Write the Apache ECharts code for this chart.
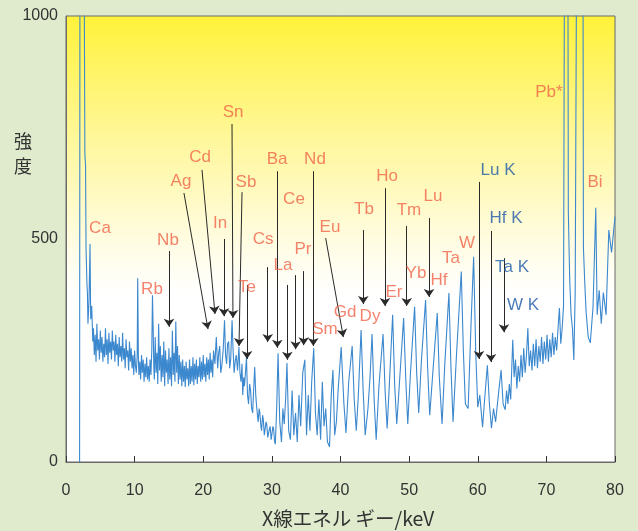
<!DOCTYPE html>
<html><head><meta charset="utf-8">
<script src="https://cdn.jsdelivr.net/npm/echarts@6/dist/echarts.min.js"></script>
<style>html,body{margin:0;padding:0;background:#dfebcc;}#c{width:638px;height:531px;}</style>
</head><body><div id="c"></div>
<script>
// X-ray energy (keV) and intensity
const energy = [
1.98,2.05,2.55,2.75,2.85,2.92,3.05,3.12,3.2,3.35,3.5,3.6,3.75,3.9,
4.0,4.125,4.25,4.375,4.5,4.625,4.75,4.875,5.0,5.125,5.25,5.375,5.5,5.625,5.75,5.875,
6.0,6.125,6.25,6.375,6.5,6.625,6.75,6.875,7.0,7.125,7.25,7.375,7.5,7.625,7.75,7.875,
8.0,8.125,8.25,8.375,8.5,8.625,8.75,8.875,9.0,9.125,9.25,9.375,9.5,9.625,9.75,9.875,
10.0,10.125,10.25,10.375,10.45,10.55,10.625,10.75,10.875,11.0,11.125,11.25,11.375,11.5,11.625,11.75,11.875,
12.0,12.125,12.25,12.375,12.5,12.6,12.7,12.8,12.875,13.0,13.125,13.25,13.375,13.5,13.625,13.75,13.875,
14.0,14.125,14.25,14.375,14.5,14.625,14.75,14.875,15.0,15.125,15.25,15.375,15.5,15.625,15.75,15.875,
16.0,16.125,16.25,16.375,16.5,16.625,16.75,16.875,17.0,17.125,17.25,17.375,17.5,17.625,17.75,17.875,
18.0,18.125,18.25,18.375,18.5,18.625,18.75,18.875,19.0,19.125,19.25,19.375,19.5,19.625,19.75,19.875,
20.0,20.125,20.25,20.375,20.5,20.625,20.75,20.875,21.0,21.125,21.25,21.375,21.5,21.7,21.9,
22.1,22.25,22.4,22.55,22.7,22.9,23.1,23.25,23.4,23.55,23.7,23.85,24.0,24.2,24.35,24.5,24.65,24.8,25.0,25.2,
25.35,25.5,25.65,25.75,25.9,26.0,26.15,26.3,26.45,26.6,26.75,26.9,27.05,27.2,27.35,27.5,27.65,27.75,27.9,
28.0,28.15,28.25,28.4,28.5,28.65,28.75,28.9,29.0,29.15,29.25,29.4,29.5,29.65,29.75,29.9,30.0,30.15,30.25,30.4,30.5,30.7,30.9,
31.15,31.4,31.6,31.8,32.0,32.2,32.45,32.7,32.95,33.2,33.45,33.7,33.95,
34.2,34.5,34.8,35.05,35.3,35.55,35.8,36.1,36.35,36.6,36.85,37.1,37.35,37.6,37.85,
38.1,38.4,38.65,38.9,39.15,39.4,39.65,40.1,40.5,40.8,41.2,41.7,42.0,42.3,42.6,
43.0,43.3,43.6,44.0,44.3,44.6,44.9,45.2,45.6,46.2,46.5,46.8,47.2,47.6,47.9,
48.2,48.6,49.2,49.5,49.8,50.2,50.8,51.1,51.4,51.8,52.4,52.7,53.0,53.5,
54.1,54.4,54.8,55.2,55.8,56.1,56.4,56.9,57.6,57.9,58.2,58.6,59.0,59.4,59.7,
60.0,60.3,60.7,61.0,61.4,61.7,62.0,62.3,62.6,63.0,63.4,63.7,64.0,64.2,64.4,64.6,64.8,
65.1,65.3,65.5,65.7,65.9,66.1,66.3,66.5,66.7,66.9,67.1,67.3,67.5,67.7,67.9,
68.1,68.3,68.5,68.7,68.9,69.1,69.3,69.5,69.7,69.9,70.1,70.3,70.5,70.7,70.9,
71.1,71.3,71.5,71.7,71.9,72.1,72.3,72.5,72.7,73.1,73.2,73.4,73.6,73.8,74.0,74.2,
74.5,75.3,75.4,75.6,75.8,76.1,76.4,76.8,77.2,77.4,77.7,78.0,78.3,78.7,79.1,79.5,80.0
];
const counts = [
0,1500,1500,690,665,480,400,380,310,360,489,320,350,270,
300,240,285,225,310,250,275,230,295,245,280,225,265,235,300,240,
275,220,290,245,270,230,295,250,270,225,285,240,265,215,280,235,
260,225,290,230,255,210,275,235,250,205,270,225,255,210,240,195,
250,215,200,240,412,230,195,225,185,240,200,230,180,220,190,235,185,
215,180,230,195,250,374,300,210,185,280,200,245,175,310,205,260,180,
240,190,270,170,250,200,230,175,255,185,235,170,295,195,245,180,
315,200,260,175,240,185,225,170,230,180,215,168,225,185,210,170,
230,175,215,180,235,172,220,185,230,175,215,190,235,180,225,185,
240,190,220,180,235,195,230,185,245,200,230,190,250,220,280,
210,245,260,200,215,250,318,240,220,265,270,210,230,318,250,200,225,240,205,258,
200,180,220,150,190,170,200,235,150,130,175,160,120,110,165,213,150,130,105,
90,120,110,80,70,105,95,60,60,90,85,55,55,75,80,50,50,80,75,45,40,120,244,
90,45,120,85,140,222,70,50,160,60,110,45,150,
80,200,229,60,150,70,180,255,110,60,140,50,180,80,120,
45,34,150,206,60,90,160,258,130,65,180,260,140,70,150,
296,160,60,120,190,287,140,50,170,287,160,75,200,330,170,
85,180,323,190,85,200,348,200,110,230,363,210,105,210,
334,190,85,220,379,210,90,240,427,250,130,120,300,460,250,
123,150,78,140,217,130,76,120,90,150,206,130,117,160,130,175,140,
274,190,230,165,215,180,240,190,255,200,240,300,215,250,205,
265,215,275,210,260,225,280,220,270,230,285,225,275,235,290,
240,280,250,300,345,265,300,350,1500,1500,560,410,330,300,229,380,
1500,1500,480,400,334,280,267,348,570,330,385,310,380,330,520,470,550
];
const xTicks = [0, 80, 10];        // min, max, interval (keV)
const yTicks = [0, 1000, 500];     // min, max, interval
// element annotations: name, [keV, intensity] of label centre
const labelNames = ['Ca','Rb','Nb','Ag','Cd','Sn','Sb','In','Te','Cs','Ba','Ce','Nd','Pr','La','Eu','Sm','Gd','Dy','Tb','Ho','Er','Tm','Yb','Lu','Hf','Ta','W','Lu K','Hf K','Ta K','W K','Pb*','Bi'];
const labelPos = [[4.95,525],[12.53,388],[14.86,498],[16.76,630],[19.53,684],[24.34,783],[26.23,626],[22.44,536],[26.38,392],[28.71,500],[30.75,679],[33.22,590],[36.28,679],[34.54,477],[31.62,442],[38.47,527],[37.74,298],[40.66,336],[44.30,327],[43.42,567],[46.78,641],[47.80,381],[49.98,565],[51.0,424],[53.48,596],[54.35,408],[56.10,457],[58.43,491],[62.95,655],[64.12,547],[64.99,437],[66.59,352],[70.38,830],[77.08,626]];
const kLineNames = ['Lu K','Hf K','Ta K','W K'];
// arrows: [keV start, intensity start, keV end, intensity end]
const arrows = [
[15.01,473,15.01,303],[17.19,603,20.69,298],[19.82,655,21.71,332],[23.02,500,23.02,327],
[24.19,758,24.33,323],[25.65,605,25.21,260],[26.38,397,26.38,231],[29.39,437,29.39,269],
[30.79,652,30.79,256],[32.25,397,32.25,229],[33.47,419,33.47,253],[34.64,428,34.64,262],
[36.04,652,36.04,260],[37.84,502,40.41,280],[43.32,520,43.32,354],[46.48,614,46.48,350],
[49.65,529,49.65,350],[52.90,547,52.90,370],[60.18,628,60.18,231],[61.93,518,61.93,224],
[63.82,457,63.82,291]
];
const xName = 'X線エネル ギー/keV';
const yName = '強\n度';

const FONT = '"Liberation Sans", Arial, Helvetica, sans-serif';
const CJK = '"Noto Sans CJK JP", "Noto Sans", sans-serif';
const chart = echarts.init(document.getElementById('c'), null, {renderer:'canvas'});
const option = {
  backgroundColor: '#dfebcc',
  animation: false,
  grid: {
    left: 66, right: 23, top: 16, bottom: 69, show: true,
    borderColor: '#6b6b6b', borderWidth: 1,
    backgroundColor: new echarts.graphic.LinearGradient(0, 0, 0, 1, [
      {offset: 0, color: '#fff23a'},
      {offset: 0.28, color: '#fff79c'},
      {offset: 0.5, color: '#fffce0'},
      {offset: 0.62, color: '#ffffff'},
      {offset: 1, color: '#ffffff'}
    ])
  },
  xAxis: {
    type: 'value', min: xTicks[0], max: xTicks[1], interval: xTicks[2],
    axisLine: {show: true, lineStyle: {color: '#6b6b6b', width: 1}},
    axisTick: {show: true, inside: true, length: 6, lineStyle: {color: '#333'}},
    axisLabel: {color: '#333', fontSize: 16, fontFamily: FONT, margin: 21},
    splitLine: {show: false}
  },
  yAxis: {
    type: 'value', min: yTicks[0], max: yTicks[1], interval: yTicks[2],
    axisLine: {show: true, lineStyle: {color: '#6b6b6b', width: 1}},
    axisTick: {show: false},
    axisLabel: {color: '#333', fontSize: 16, fontFamily: FONT, margin: 8, formatter: v => String(v)},
    splitLine: {show: false}
  },
  graphic: [
    {type: 'text', left: 14, top: 129, silent: true,
     style: {text: yName, font: '18px ' + CJK, fill: '#333', lineHeight: 25}},
    {type: 'text', left: 262, top: 509, silent: true,
     style: {text: xName, font: '19.5px ' + CJK, fill: '#333'}}
  ],
  series: [
    {
      type: 'line', symbol: 'none', clip: true, silent: true,
      data: energy.map((e, i) => [e, counts[i]]),
      lineStyle: {color: '#3b88ce', width: 1.1}
    },
    {
      type: 'line', data: [], silent: true,
      markLine: {
        silent: true, symbol: ['none', 'arrow'], symbolSize: 8,
        label: {show: false},
        lineStyle: {color: '#2a2a2a', width: 1, type: 'solid'},
        emphasis: {disabled: true},
        data: arrows.map(a => [{coord: [a[0], a[1]]}, {coord: [a[2], a[3]]}])
      }
    },
    {
      type: 'scatter', symbolSize: 1, silent: true, z: 5,
      itemStyle: {color: 'rgba(0,0,0,0)'},
      label: {show: true, position: 'inside', formatter: '{b}', fontSize: 17, fontFamily: FONT},
      data: labelNames.map((n, i) => ({
        name: n, value: labelPos[i],
        label: {color: kLineNames.includes(n) ? '#1f5aa8' : '#f0644a'}
      }))
    }
  ]
};
chart.setOption(option);
</script>
</body></html>
